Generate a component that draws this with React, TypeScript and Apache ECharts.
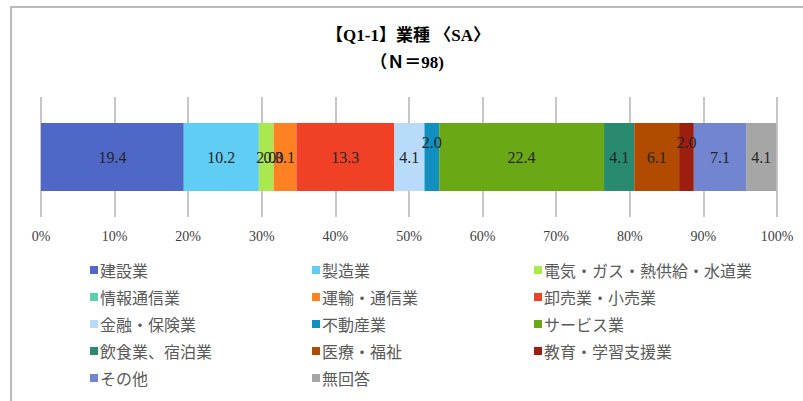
import React, { useEffect, useRef } from "react";
import * as echarts from "echarts";

const categories = [
  "建設業",
  "製造業",
  "電気・ガス・熱供給・水道業",
  "情報通信業",
  "運輸・通信業",
  "卸売業・小売業",
  "金融・保険業",
  "不動産業",
  "サービス業",
  "飲食業、宿泊業",
  "医療・福祉",
  "教育・学習支援業",
  "その他",
  "無回答",
];
const values = [19.4, 10.2, 2.0, 0.0, 3.1, 13.3, 4.1, 2.0, 22.4, 4.1, 6.1, 2.0, 7.1, 4.1];
const colors = [
  "#4F68C8",
  "#60CDF4",
  "#A9E84E",
  "#5DCFAE",
  "#FF8122",
  "#F04126",
  "#B7DBF8",
  "#1190C0",
  "#6AA816",
  "#2A8A70",
  "#B04B00",
  "#9B1E0E",
  "#7185D1",
  "#A6A6A6",
];
const raisedLabels = ["不動産業", "教育・学習支援業"];
const xTicks = { min: 0, max: 100, interval: 10 };
const titleLines = ["【Q1-1】業種 〈SA〉", "（Ｎ＝98)"];
const legendColumns = [
  ["建設業", "情報通信業", "金融・保険業", "飲食業、宿泊業", "その他"],
  ["製造業", "運輸・通信業", "不動産業", "医療・福祉", "無回答"],
  ["電気・ガス・熱供給・水道業", "卸売業・小売業", "サービス業", "教育・学習支援業"],
];

export default function App() {
  const ref = useRef<HTMLDivElement>(null);
  useEffect(() => {
    document.body.style.margin = "0";
    const chart = echarts.init(ref.current!, null, { renderer: "svg" });
    const legendLeft = [85, 307, 529];
    chart.setOption({
      animation: false,
      backgroundColor: "#ffffff",
      graphic: [
        {
          type: "rect",
          shape: { x: 11, y: 7, width: 820, height: 420 },
          style: { fill: "none", stroke: "#A5A5A5", lineWidth: 1.5 },
          silent: true,
        },
        {
          type: "text",
          x: 408,
          y: 35,
          style: {
            text: titleLines[0],
            fill: "#000",
            font: 'bold 17px "Liberation Serif", "Noto Sans CJK JP", serif',
            textAlign: "center",
            textVerticalAlign: "middle",
          },
        },
        {
          type: "text",
          x: 407,
          y: 62,
          style: {
            text: titleLines[1],
            fill: "#000",
            font: 'bold 17px "Liberation Serif", "Noto Sans CJK JP", serif',
            textAlign: "center",
            textVerticalAlign: "middle",
          },
        },
      ],
      grid: { left: 41, right: 26, top: 97, height: 120, containLabel: false },
      xAxis: {
        type: "value",
        min: xTicks.min,
        max: xTicks.max,
        interval: xTicks.interval,
        axisLine: { show: false },
        axisTick: { show: false },
        axisLabel: {
          formatter: "{value}%",
          color: "#404040",
          fontFamily: '"Liberation Serif", serif',
          fontSize: 14,
          margin: 12,
        },
        splitLine: { show: true, lineStyle: { color: "#B3B3B3", width: 1.5 } },
      },
      yAxis: {
        type: "category",
        data: [""],
        show: false,
      },
      legend: legendColumns.map((col, i) => ({
        orient: "vertical",
        left: legendLeft[i],
        top: 257,
        data: col,
        itemWidth: 8,
        itemHeight: 8,
        itemGap: 11,
        icon: "rect",
        selectedMode: false,
        textStyle: {
          color: "#595959",
          fontSize: 16,
          fontFamily: '"Noto Sans CJK JP", sans-serif',
          padding: [0, 0, 0, -3],
        },
      })),
      series: categories.map((name, i) => ({
        name,
        type: "bar",
        stack: "total",
        barWidth: 68,
        data: [values[i]],
        itemStyle: { color: colors[i] },
        label: {
          show: true,
          position: "inside",
          offset: raisedLabels.includes(name) ? [0, -15] : [0, 0],
          formatter: (p: any) => Number(p.value).toFixed(1),
          color: "#262626",
          fontSize: 16,
          fontFamily: '"Liberation Serif", serif',
        },
      })),
    });
    return () => chart.dispose();
  }, []);
  return <div ref={ref} style={{ width: 803, height: 401 }} />;
}
